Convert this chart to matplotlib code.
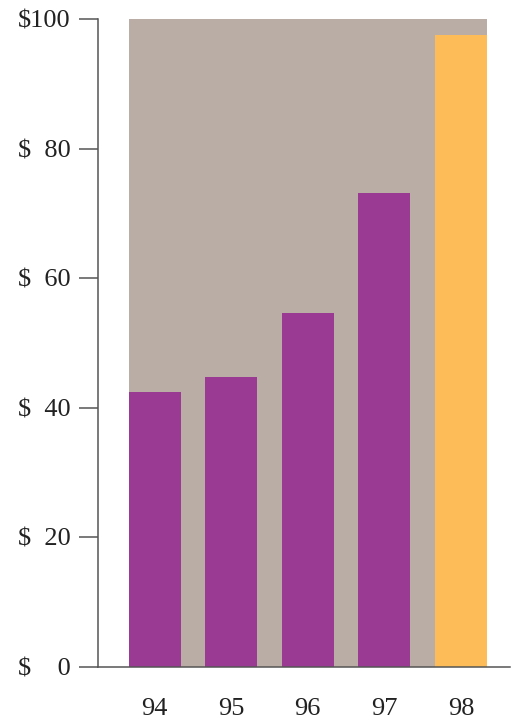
import numpy as np
import matplotlib
matplotlib.use("Agg")
import matplotlib.pyplot as plt

# data
years = ["94", "95", "96", "97", "98"]
values = [42.4, 44.8, 54.6, 73.1, 97.5]
ceiling = 100
y_ticks = [0, 20, 40, 60, 80, 100]

PURPLE = "#9B3A93"
ORANGE = "#FDBC57"
TAUPE = "#B9ADA5"
AXIS = "#555555"

plt.rcParams["font.family"] = ["Liberation Serif", "DejaVu Serif"]

fig = plt.figure(figsize=(5.17, 7.22), dpi=100)
ax = fig.add_axes([98 / 517, 55 / 722, 412 / 517, 648 / 722])

x = np.arange(len(years))
width = 0.68

# background block up to the $100 line, behind all bars
ax.bar((x[0] + x[-1]) / 2, ceiling, width=(x[-1] - x[0]) + width,
       color=TAUPE, linewidth=0, zorder=1)

colors = [PURPLE] * (len(years) - 1) + [ORANGE]
ax.bar(x, values, width=width, color=colors, linewidth=0, zorder=2)

ax.set_xlim(-0.739, 4.64)
ax.set_ylim(0, ceiling)

ax.set_xticks(x)
ax.set_xticklabels(years, fontsize=19)
ax.tick_params(axis="x", length=0, pad=22, colors="#222222")

ax.set_yticks(y_ticks)
labels = []
for t in y_ticks:
    s = str(t)
    labels.append("$" + "\u2007" * (3 - len(s)) + s)
ax.set_yticklabels(labels, fontsize=19)
ax.tick_params(axis="y", length=13.7, width=1.1, color=AXIS, pad=6,
               labelcolor="#222222")

for side in ["top", "right"]:
    ax.spines[side].set_visible(False)
for side in ["left", "bottom"]:
    ax.spines[side].set_color(AXIS)
    ax.spines[side].set_linewidth(1.1)
    ax.spines[side].set_zorder(3)

fig.savefig("out.png", dpi=100)
